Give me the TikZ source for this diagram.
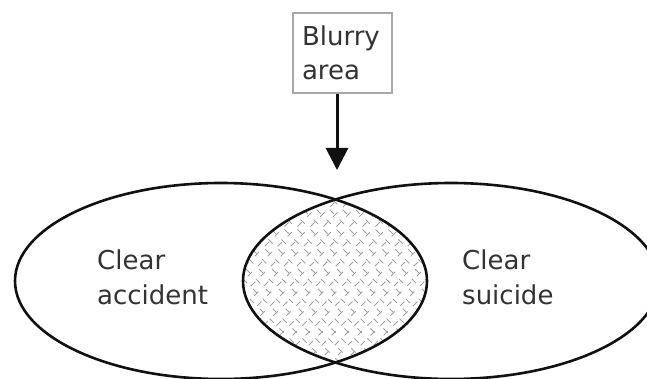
\documentclass[tikz,border=0pt]{standalone}
\usepackage{fontspec}
\setmainfont{DejaVu Sans}
\usetikzlibrary{arrows.meta}
\definecolor{cInk}{HTML}{111111}
\definecolor{cText}{HTML}{333333}
\definecolor{cFrame}{HTML}{A8A8A8}
\tikzset{
  rim/.style={draw=cInk,line width=2.6pt},
  hatch/.style={draw=gray!75,line width=0.8pt,dash pattern=on 6pt off 8pt},
  tag/.style={font=\fontsize{26}{35}\selectfont,text=cText,align=left,
              inner sep=0pt,anchor=north west},
  note/.style={draw=cFrame,line width=2pt,fill=white,minimum height=80pt,
               text width=81pt,inner xsep=9pt,inner ysep=0pt,align=left,
               font=\fontsize{26}{34}\selectfont,text=cText},
  flow/.style={-{Triangle[width=22pt,length=22pt]},line width=3pt,draw=cInk}
}

\begin{document}
\begin{tikzpicture}[x=1pt,y=-1pt]
  \clip (0,0) rectangle (647,379);

  % Hatched overlap of the two sets.
  \begin{scope}
    \clip (221,281) ellipse [x radius=206pt, y radius=98pt];
    \clip (451,281) ellipse [x radius=208pt, y radius=98pt];
    \foreach \c in {40,53,...,440} {
      \draw[hatch] (\c,180) -- ++(200,200);
      \draw[hatch,dash phase=7pt] (\c,380) -- ++(200,-200);
    }
  \end{scope}

  \path[rim] (221,281) ellipse [x radius=206pt, y radius=98pt];
  \path[rim] (451,281) ellipse [x radius=208pt, y radius=98pt];

  \node[tag] (accident) at (97,250) {Clear\\accident};
  \node[tag] (suicide) at (462,250) {Clear\\suicide};

  \node[note] (blurry) at (342.5,53) {Blurry\\area};
  \coordinate (top) at (337,170);
  \draw[flow] (blurry.south -| top) -- (top);
\end{tikzpicture}
\end{document}
